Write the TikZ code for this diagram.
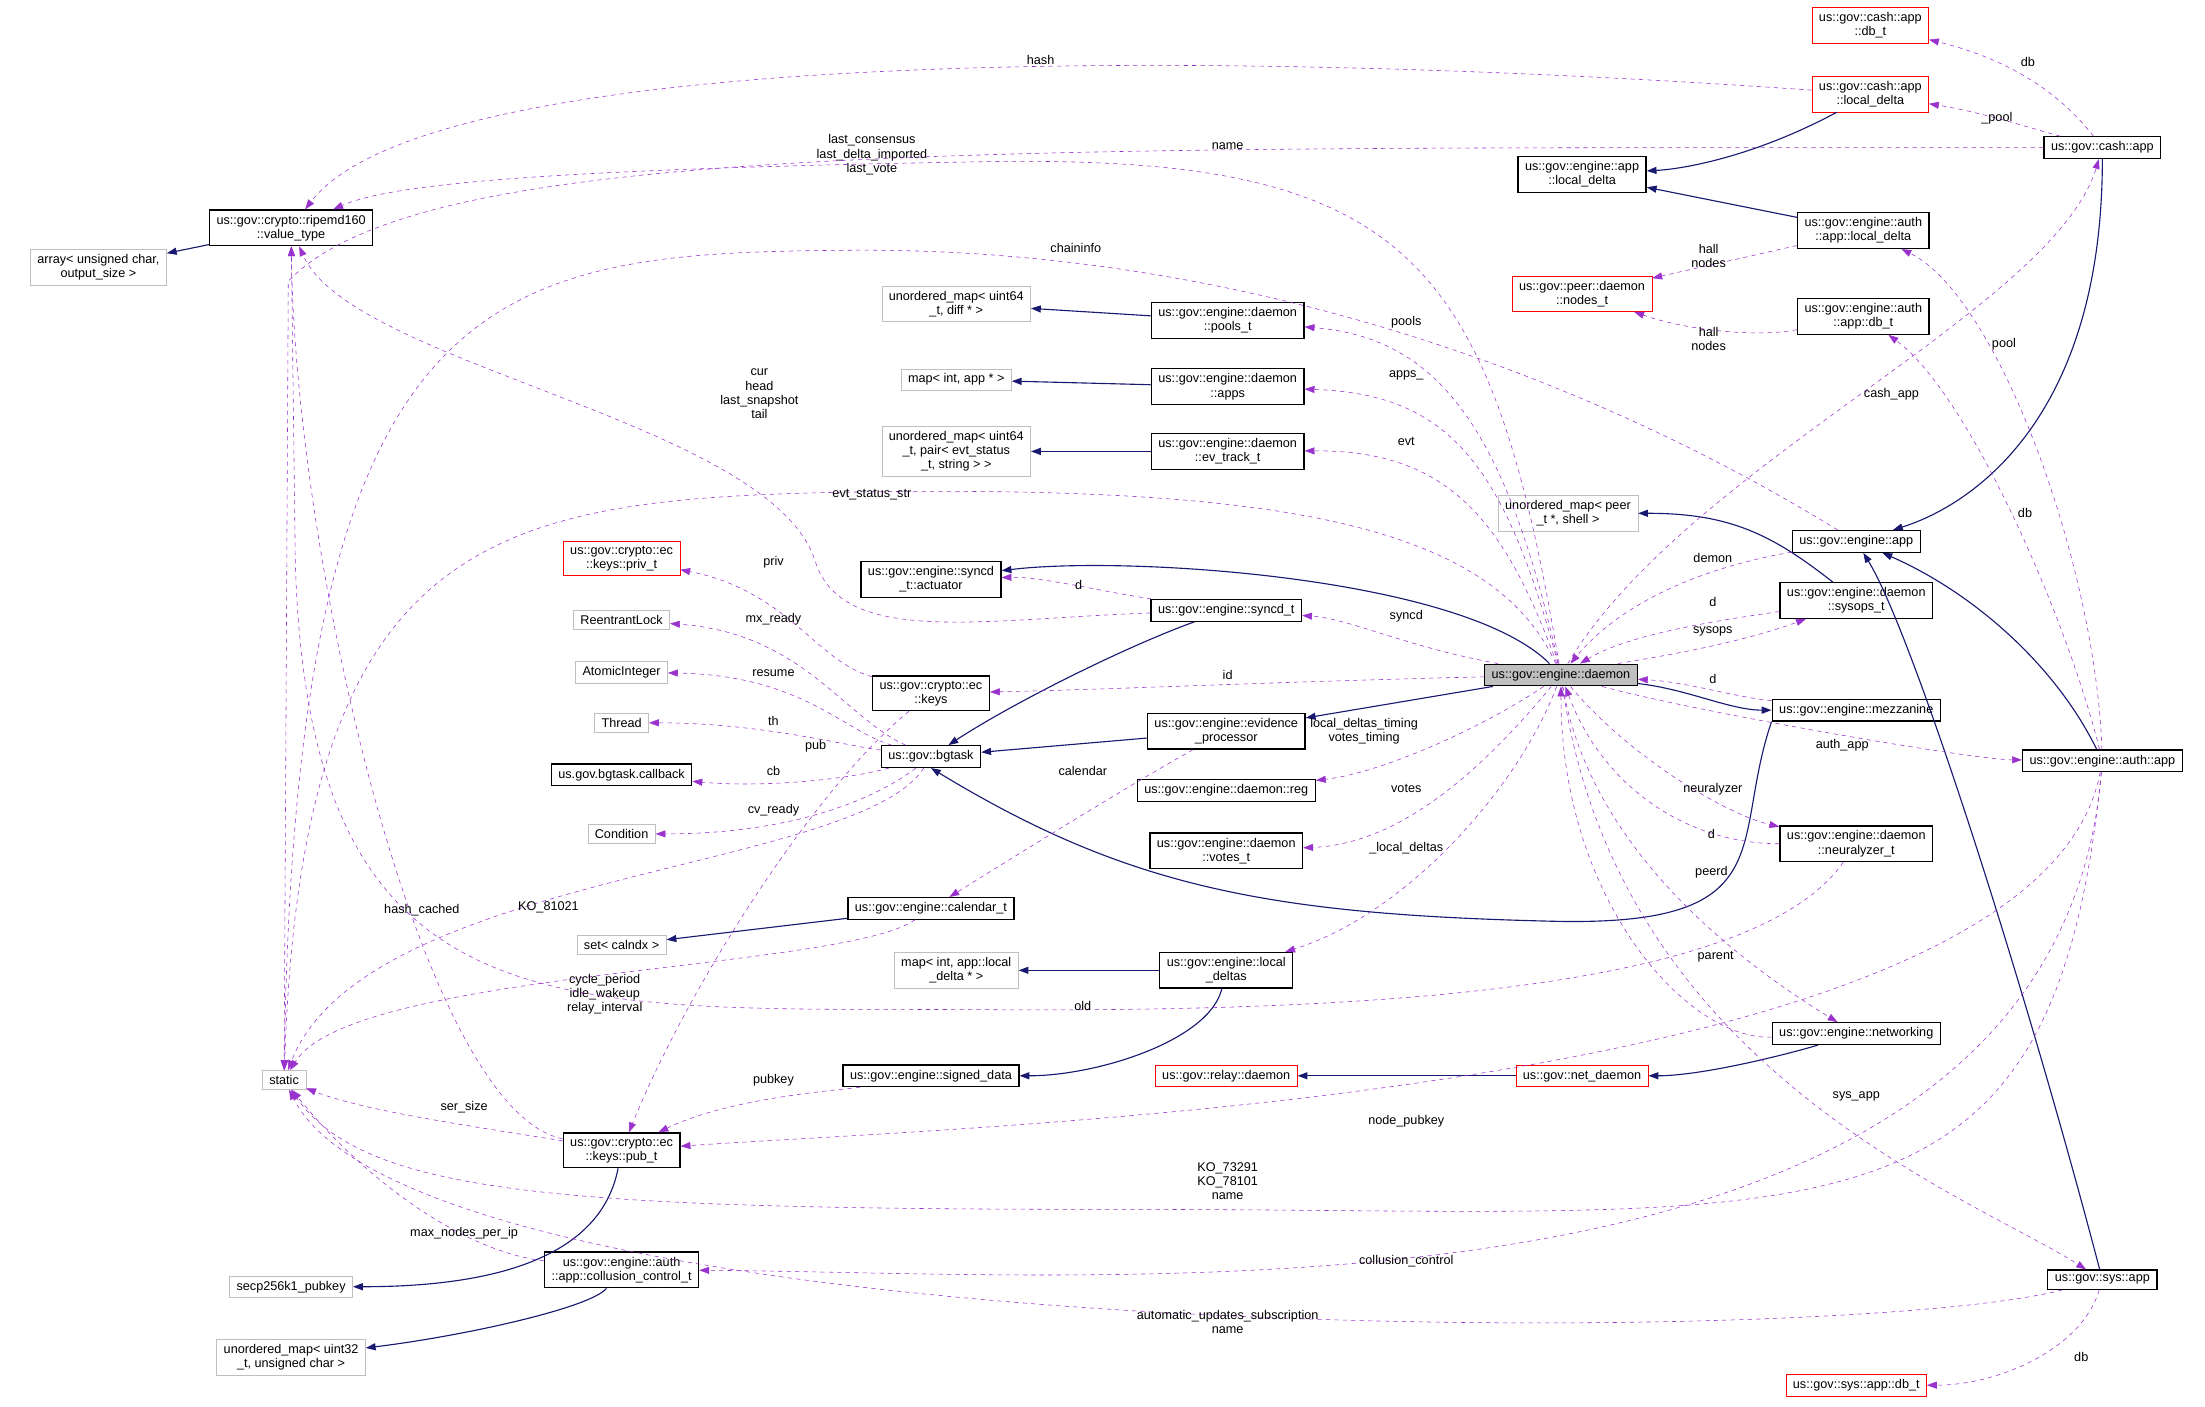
\documentclass[tikz,border=0pt]{standalone}
\usepackage{fontspec}
\setmainfont{Liberation Sans}
\usetikzlibrary{arrows.meta}
\definecolor{pur}{HTML}{9A32CD}
\definecolor{nav}{HTML}{191970}
\definecolor{gb}{HTML}{BFBFBF}
\begin{document}
\begin{tikzpicture}[x=1pt,y=-1pt,
 every node/.style={font=\fontsize{9}{10}\selectfont,align=center,inner xsep=5pt,inner ysep=3.5pt},
 bx/.style={draw=black,line width=0.9pt,fill=white},
 gbx/.style={draw=gb,fill=white},
 rbx/.style={draw=red,fill=white},
 dbx/.style={draw=black,line width=0.9pt,fill=gb},
 dep/.style={draw=pur,dashed,-{Triangle[length=7pt,width=5pt]}},
 inh/.style={draw=nav,thick,-{Triangle[length=7pt,width=5pt]}},
 lbl/.style={inner sep=0pt}]
\useasboundingbox (0,0) rectangle (1568,1000);
% nodes
\node[gbx] (arr) at (70,190) {array< unsigned char,\\output\_size >};
\node[bx] (rip) at (207,162) {us::gov::crypto::ripemd160\\::value\_type};
\node[gbx] (st) at (202,768) {static};
\node[rbx] (cdb) at (1330,18) {us::gov::cash::app\\::db\_t};
\node[rbx] (cld) at (1330,67) {us::gov::cash::app\\::local\_delta};
\node[bx] (capp) at (1495,105) {us::gov::cash::app};
\node[bx] (eld) at (1125,124) {us::gov::engine::app\\::local\_delta};
\node[bx] (ald) at (1325,164) {us::gov::engine::auth\\::app::local\_delta};
\node[rbx] (nod) at (1125,209) {us::gov::peer::daemon\\::nodes\_t};
\node[bx] (adb) at (1325,225) {us::gov::engine::auth\\::app::db\_t};
\node[gbx] (umd) at (680,216) {unordered\_map< uint64\\\_t, diff * >};
\node[bx] (pools) at (873,228) {us::gov::engine::daemon\\::pools\_t};
\node[gbx] (mapp) at (680,270) {map< int, app * >};
\node[bx] (apps) at (873,275) {us::gov::engine::daemon\\::apps};
\node[gbx] (ume) at (680,321) {unordered\_map< uint64\\\_t, pair< evt\_status\\\_t, string > >};
\node[bx] (evt) at (873,321) {us::gov::engine::daemon\\::ev\_track\_t};
\node[gbx] (ums) at (1115,365) {unordered\_map< peer\\\_t *, shell >};
\node[bx] (eapp) at (1320,385) {us::gov::engine::app};
\node[rbx] (priv) at (442,397) {us::gov::crypto::ec\\::keys::priv\_t};
\node[bx] (act) at (662,412) {us::gov::engine::syncd\\\_t::actuator};
\node[bx] (sync) at (872,434) {us::gov::engine::syncd\_t};
\node[bx] (sys) at (1320,427) {us::gov::engine::daemon\\::sysops\_t};
\node[gbx] (rl) at (442,441) {ReentrantLock};
\node[dbx] (dmn) at (1110,480) {us::gov::engine::daemon};
\node[gbx] (ai) at (442,478) {AtomicInteger};
\node[bx] (keys) at (662,493) {us::gov::crypto::ec\\::keys};
\node[bx] (mez) at (1320,505) {us::gov::engine::mezzanine};
\node[gbx] (thr) at (442,514) {Thread};
\node[bx] (evp) at (872,520) {us::gov::engine::evidence\\\_processor};
\node[bx] (bg) at (662,538) {us::gov::bgtask};
\node[bx] (cb) at (442,551) {us.gov.bgtask.callback};
\node[bx] (reg) at (872,562) {us::gov::engine::daemon::reg};
\node[bx] (aapp) at (1495,541) {us::gov::engine::auth::app};
\node[gbx] (cond) at (442,593) {Condition};
\node[bx] (votes) at (872,605) {us::gov::engine::daemon\\::votes\_t};
\node[bx] (neu) at (1320,600) {us::gov::engine::daemon\\::neuralyzer\_t};
\node[bx] (cal) at (662,646) {us::gov::engine::calendar\_t};
\node[gbx] (setc) at (442,672) {set< calndx >};
\node[gbx] (mld) at (680,690) {map< int, app::local\\\_delta * >};
\node[bx] (ldl) at (872,690) {us::gov::engine::local\\\_deltas};
\node[bx] (net) at (1320,735) {us::gov::engine::networking};
\node[bx] (sd) at (662,765) {us::gov::engine::signed\_data};
\node[rbx] (rel) at (872,765) {us::gov::relay::daemon};
\node[rbx] (nd) at (1125,765) {us::gov::net\_daemon};
\node[bx] (pub) at (442,818) {us::gov::crypto::ec\\::keys::pub\_t};
\node[gbx] (secp) at (207,915) {secp256k1\_pubkey};
\node[bx] (col) at (442,903) {us::gov::engine::auth\\::app::collusion\_control\_t};
\node[bx] (sapp) at (1495,910) {us::gov::sys::app};
\node[gbx] (umu) at (207,965) {unordered\_map< uint32\\\_t, unsigned char >};
\node[rbx] (sdb) at (1320,985) {us::gov::sys::app::db\_t};
% solid edges
\draw[inh] (rip) -- (arr);
\draw[inh] (cld) .. controls (1250,110) and (1200,120) .. (eld);
\draw[inh] (ald) -- (eld);
\draw[inh] (pools) -- (umd);
\draw[inh] (apps) -- (mapp);
\draw[inh] (evt) -- (ume);
\draw[inh] (sys) .. controls (1260,380) and (1230,365) .. (ums);
\draw[inh] (capp) .. controls (1495,300) and (1400,360) .. (eapp);
\draw[inh] (aapp) .. controls (1460,470) and (1400,420) .. (eapp);
\draw[inh] (sapp) .. controls (1440,700) and (1360,450) .. (eapp);
\draw[inh] (dmn) .. controls (1040,410) and (800,395) .. (act);
\draw[inh] (sync) .. controls (800,460) and (720,500) .. (bg);
\draw[inh] (evp) -- (bg);
\draw[inh] (dmn) .. controls (1200,490) and (1230,505) .. (mez);
\draw[inh] (dmn) -- (evp);
\draw[inh] (mez.south west) .. controls (1230,600) and (1270,660) .. (1100,655) .. controls (900,650) and (800,630) .. (bg.south);
\draw[inh] (cal) -- (setc);
\draw[inh] (ldl) -- (mld);
\draw[inh] (ldl) .. controls (860,740) and (780,765) .. (sd);
\draw[inh] (net) .. controls (1270,750) and (1210,765) .. (nd);
\draw[inh] (nd) -- (rel);
\draw[inh] (pub) .. controls (430,880) and (380,915) .. (secp);
\draw[inh] (col) .. controls (420,930) and (330,950) .. (umu);
% dashed edges with labels
\draw[dep] (capp) .. controls (1460,60) and (1420,40) .. (cdb);
\node[lbl] (l1) at (1442,44) {db};
\draw[dep] (capp) .. controls (1440,90) and (1410,80) .. (cld);
\node[lbl] (l2) at (1420,84) {\_pool};
\draw[dep] (cld) .. controls (800,30) and (300,40) .. (rip);
\node[lbl] (l3) at (740,43) {hash};
\draw[dep] (dmn) .. controls (1060,180) and (1000,110) .. (700,115) .. controls (400,120) and (280,130) .. (rip);
\node[lbl] (l4) at (620,110) {last\_consensus\\last\_delta\_imported\\last\_vote};
\draw[dep] (capp) .. controls (700,105) and (300,100) .. (205,200) -- (st);
\node[lbl] (l5) at (873,104) {name};
\draw[dep] (eapp) .. controls (1100,250) and (850,175) .. (600,178) .. controls (350,180) and (210,200) .. (st);
\node[lbl] (l6) at (765,176) {chaininfo};
\draw[dep] (ald) -- (nod);
\node[lbl] (l7) at (1215,182) {hall\\nodes};
\draw[dep] (adb) .. controls (1250,240) and (1200,235) .. (nod);
\node[lbl] (l8) at (1215,241) {hall\\nodes};
\draw[dep] (dmn) .. controls (1070,300) and (1020,240) .. (pools);
\node[lbl] (l9) at (1000,229) {pools};
\draw[dep] (dmn) .. controls (1070,330) and (1030,280) .. (apps);
\node[lbl] (l10) at (1000,267) {apps\_};
\draw[dep] (dmn) .. controls (1070,370) and (1030,320) .. (evt);
\node[lbl] (l11) at (1000,314) {evt};
\draw[dep] (dmn) .. controls (1200,330) and (1460,220) .. (capp);
\node[lbl] (l12) at (1345,280) {cash\_app};
\draw[dep] (aapp) .. controls (1490,400) and (1420,210) .. (ald);
\node[lbl] (l13) at (1425,245) {pool};
\draw[dep] (aapp) .. controls (1470,440) and (1400,280) .. (adb);
\node[lbl] (l14) at (1440,365) {db};
\draw[dep] (eapp) .. controls (1230,400) and (1160,420) .. (dmn);
\node[lbl] (l15) at (1218,397) {demon};
\draw[dep] (sys) .. controls (1230,440) and (1160,450) .. (dmn);
\node[lbl] (l16) at (1218,428) {d};
\draw[dep] (dmn) .. controls (1160,470) and (1230,460) .. (sys);
\node[lbl] (l17) at (1218,449) {sysops};
\draw[dep] (mez) .. controls (1230,495) and (1200,485) .. (dmn);
\node[lbl] (l18) at (1218,483) {d};
\draw[dep] (dmn) .. controls (1060,370) and (900,345) .. (600,350) .. controls (350,355) and (215,380) .. (st);
\node[lbl] (l19) at (620,352) {evt\_status\_str};
\draw[dep] (sync) .. controls (700,440) and (600,460) .. (580,400) .. controls (550,300) and (250,260) .. (rip);
\node[lbl] (l20) at (540,280) {cur\\head\\last\_snapshot\\tail};
\draw[dep] (keys) .. controls (580,470) and (560,420) .. (priv);
\node[lbl] (l21) at (550,400) {priv};
\draw[dep] (sync) .. controls (780,420) and (740,410) .. (act);
\node[lbl] (l22) at (767,416) {d};
\draw[dep] (dmn) .. controls (1000,460) and (960,440) .. (sync);
\node[lbl] (l23) at (1000,438) {syncd};
\draw[dep] (dmn) .. controls (900,485) and (800,490) .. (keys);
\node[lbl] (l24) at (873,480) {id};
\draw[dep] (bg) .. controls (600,510) and (570,450) .. (rl);
\node[lbl] (l25) at (550,440) {mx\_ready};
\draw[dep] (bg) .. controls (600,520) and (570,480) .. (ai);
\node[lbl] (l26) at (550,479) {resume};
\draw[dep] (bg) .. controls (600,530) and (540,514) .. (thr);
\node[lbl] (l27) at (550,513) {th};
\draw[dep] (bg) .. controls (600,555) and (540,560) .. (cb);
\node[lbl] (l28) at (550,548) {cb};
\draw[dep] (bg) .. controls (620,570) and (560,593) .. (cond);
\node[lbl] (l29) at (550,576) {cv\_ready};
\draw[dep] (bg) .. controls (610,620) and (260,620) .. (st);
\node[lbl] (l30) at (390,645) {KO\_81021};
\draw[dep] (keys) .. controls (580,560) and (490,700) .. (pub);
\node[lbl] (l31) at (580,531) {pub};
\draw[dep] (evp) .. controls (800,560) and (720,610) .. (cal);
\node[lbl] (l32) at (770,548) {calendar};
\draw[dep] (dmn) .. controls (1050,520) and (980,550) .. (reg);
\node[lbl] (l33) at (970,520) {local\_deltas\_timing\\votes\_timing};
\draw[dep] (dmn) .. controls (1060,540) and (1000,600) .. (votes);
\node[lbl] (l34) at (1000,561) {votes};
\draw[dep] (dmn) .. controls (1080,560) and (1000,650) .. (ldl);
\node[lbl] (l35) at (1000,603) {\_local\_deltas};
\draw[dep] (dmn) .. controls (1160,540) and (1230,580) .. (neu);
\node[lbl] (l36) at (1218,561) {neuralyzer};
\draw[dep] (neu) .. controls (1200,600) and (1140,560) .. (dmn);
\node[lbl] (l37) at (1217,593) {d};
\draw[dep] (dmn) .. controls (1130,600) and (1230,680) .. (net);
\node[lbl] (l38) at (1217,620) {peerd};
\draw[dep] (net) .. controls (1200,740) and (1110,640) .. (dmn);
\node[lbl] (l39) at (1220,680) {parent};
\draw[dep] (dmn) .. controls (1200,505) and (1400,540) .. (aapp);
\node[lbl] (l40) at (1310,530) {auth\_app};
\draw[dep] (cal) .. controls (600,690) and (250,690) .. (st);
\node[lbl] (l41) at (430,707) {cycle\_period\\idle\_wakeup\\relay\_interval};
\draw[dep] (neu) .. controls (1250,700) and (1000,720) .. (700,718) .. controls (400,716) and (220,740) .. (210,400) -- (rip);
\node[lbl] (l42) at (770,715) {old};
\draw[dep] (pub) .. controls (300,790) and (210,400) .. (rip);
\node[lbl] (l43) at (300,647) {hash\_cached};
\draw[dep] (sd) .. controls (600,775) and (520,780) .. (pub);
\node[lbl] (l44) at (550,768) {pubkey};
\draw[dep] (pub) .. controls (330,800) and (260,790) .. (st);
\node[lbl] (l45) at (330,787) {ser\_size};
\draw[dep] (aapp) .. controls (1450,780) and (700,800) .. (pub);
\node[lbl] (l46) at (1000,797) {node\_pubkey};
\draw[dep] (aapp) .. controls (1460,900) and (1300,860) .. (800,860) .. controls (400,860) and (260,850) .. (st);
\node[lbl] (l47) at (873,840) {KO\_73291\\KO\_78101\\name};
\draw[dep] (col) .. controls (330,890) and (260,840) .. (st);
\node[lbl] (l48) at (330,877) {max\_nodes\_per\_ip};
\draw[dep] (aapp) .. controls (1460,960) and (800,905) .. (col);
\node[lbl] (l49) at (1000,897) {collusion\_control};
\draw[dep] (sapp) .. controls (1300,960) and (300,960) .. (st);
\node[lbl] (l50) at (873,940) {automatic\_updates\_subscription\\name};
\draw[dep] (dmn) .. controls (1150,760) and (1400,850) .. (sapp);
\node[lbl] (l51) at (1320,780) {sys\_app};
\draw[dep] (sapp) .. controls (1480,960) and (1420,985) .. (sdb);
\node[lbl] (l52) at (1480,965) {db};
\end{tikzpicture}
\end{document}
